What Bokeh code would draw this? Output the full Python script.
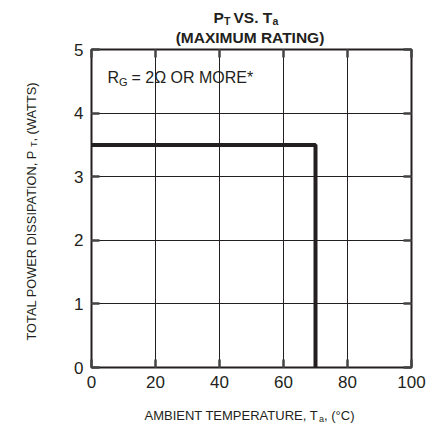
from bokeh.plotting import figure
from bokeh.models import (FixedTicker, LinearAxis, Label, BoxAnnotation, Range1d, Grid)
from bokeh.layouts import column, row
from bokeh.embed import file_html
from bokeh.resources import INLINE
import math

# ---- data ----
temps = [0, 70, 70]          # ambient temperature (°C)
power = [3.5, 3.5, 0]        # total power dissipation (W)
x_ticks = [0, 20, 40, 60, 80, 100]
y_ticks = [0, 1, 2, 3, 4, 5]

FONT = "Liberation Sans"
INK = "#231f20"

W, H = 446, 425
LW = 50                      # width of the strip holding the y-axis title
TH = 25                      # height of the strip holding the first title line
FL, FT = 91, 49              # frame left / top in page pixels
FW, FH = 320, 318            # frame size
MT = FT - TH
MB = 30
MAIN_H = MT + FH + MB
BH = H - TH - MAIN_H         # height of the strip holding the x-axis title
ML = FL - LW
MAIN_W = W - LW
MR = MAIN_W - ML - FW

def strip(w, h, xr, yr):
    f = figure(width=w, height=h, output_backend="svg", toolbar_location=None,
               x_range=Range1d(*xr), y_range=Range1d(*yr),
               min_border=0, x_axis_location=None, y_axis_location=None)
    f.outline_line_color = None
    f.grid.visible = False
    f.background_fill_color = "white"
    f.border_fill_color = "white"
    return f

def lab(f, text, x, y, size, bold=False, angle=0.0, align="left", place="center"):
    f.add_layout(Label(x=x, y=y, text=text, text_font=FONT,
                       text_font_size=f"{size}px", text_color=INK,
                       text_font_style="bold" if bold else "normal",
                       text_align=align, text_baseline="alphabetic",
                       angle=angle, level="overlay"), place)

# ---- title strip, first line (page coordinates) ----
top = strip(W, TH, (0, W), (TH, 0))
lab(top, "P", 213, 16.5, 15.5, True)
lab(top, "T", 223.5, 20.5, 10.5, True)
lab(top, "VS. T", 233, 16.5, 15.5, True)
lab(top, "a", 272, 20.5, 10.5, True)

# ---- y-axis title strip (its frame is aligned with the chart frame) ----
left = strip(LW, MAIN_H, (0, LW), (FT + FH, FT))
rot = math.pi / 2
lab(left, "TOTAL POWER DISSIPATION, P", 30.5, 340, 12.8, angle=rot)
lab(left, "T", 33.5, 146.5, 9, angle=rot)
lab(left, ", (WATTS)", 30.5, 141, 12.8, angle=rot)

# ---- main chart ----
p = figure(width=MAIN_W, height=MAIN_H, output_backend="svg", toolbar_location=None,
           x_range=Range1d(0, 100), y_range=Range1d(0, 5),
           min_border_left=ML, min_border_right=MR, min_border_top=MT, min_border_bottom=MB,
           x_axis_location=None, y_axis_location=None)
p.outline_line_color = INK
p.outline_line_width = 2
p.background_fill_color = "white"
p.border_fill_color = "white"

def dx(px):
    return (px - FL) / FW * 100.0
def dy(py):
    return (FT + FH - py) / FH * 5.0

p.add_layout(BoxAnnotation(left=dx(93), right=dx(283.5), bottom=dy(85), top=dy(57),
                           fill_color="white", fill_alpha=1.0, line_color=None, level="underlay"))

def style_axis(ax, ticks, labels=True):
    ax.ticker = FixedTicker(ticks=ticks)
    ax.axis_line_color = None
    ax.major_tick_in = 8
    ax.major_tick_out = 0
    ax.major_tick_line_width = 2.5
    ax.major_tick_line_color = "#444444"
    ax.minor_tick_line_color = None
    if labels:
        ax.major_label_text_font = FONT
        ax.major_label_text_font_size = "17px"
        ax.major_label_text_color = INK
        ax.major_label_standoff = 8
    else:
        ax.major_label_text_color = None
        ax.major_label_text_font_size = "1px"
        ax.major_label_standoff = 0

bx = LinearAxis(); style_axis(bx, x_ticks); p.add_layout(bx, "below")
ly = LinearAxis(); style_axis(ly, y_ticks); p.add_layout(ly, "left")
tx = LinearAxis(); style_axis(tx, x_ticks, False); p.add_layout(tx, "above")
ry = LinearAxis(); style_axis(ry, y_ticks, False); p.add_layout(ry, "right")

p.add_layout(Grid(dimension=0, ticker=FixedTicker(ticks=x_ticks), grid_line_color=INK, grid_line_width=1))
p.add_layout(Grid(dimension=1, ticker=FixedTicker(ticks=y_ticks), grid_line_color=INK, grid_line_width=1))

p.line(temps, power, line_color=INK, line_width=4)

# second title line, in the chart's top border panel
lab(p, "(MAXIMUM RATING)", dx(249.5), dy(36.5), 15.5, True, align="center", place="above")

lab(p, "R", dx(107), dy(77), 16)
lab(p, "G", dx(118.6), dy(81), 11)
lab(p, "= 2\u03a9 OR MORE*", dx(131), dy(77), 16)

# ---- x-axis title strip ----
y0 = TH + MAIN_H
bot = strip(W, BH, (0, W), (y0 + BH, y0))
lab(bot, "AMBIENT TEMPERATURE, T", 144, 415, 13)
lab(bot, "a", 318.5, 418, 9)
lab(bot, ", (\u00b0C)", 323.5, 415, 13)

layout = column(top, row(left, p), bot)
open("out.html", "w").write(file_html(layout, INLINE))
